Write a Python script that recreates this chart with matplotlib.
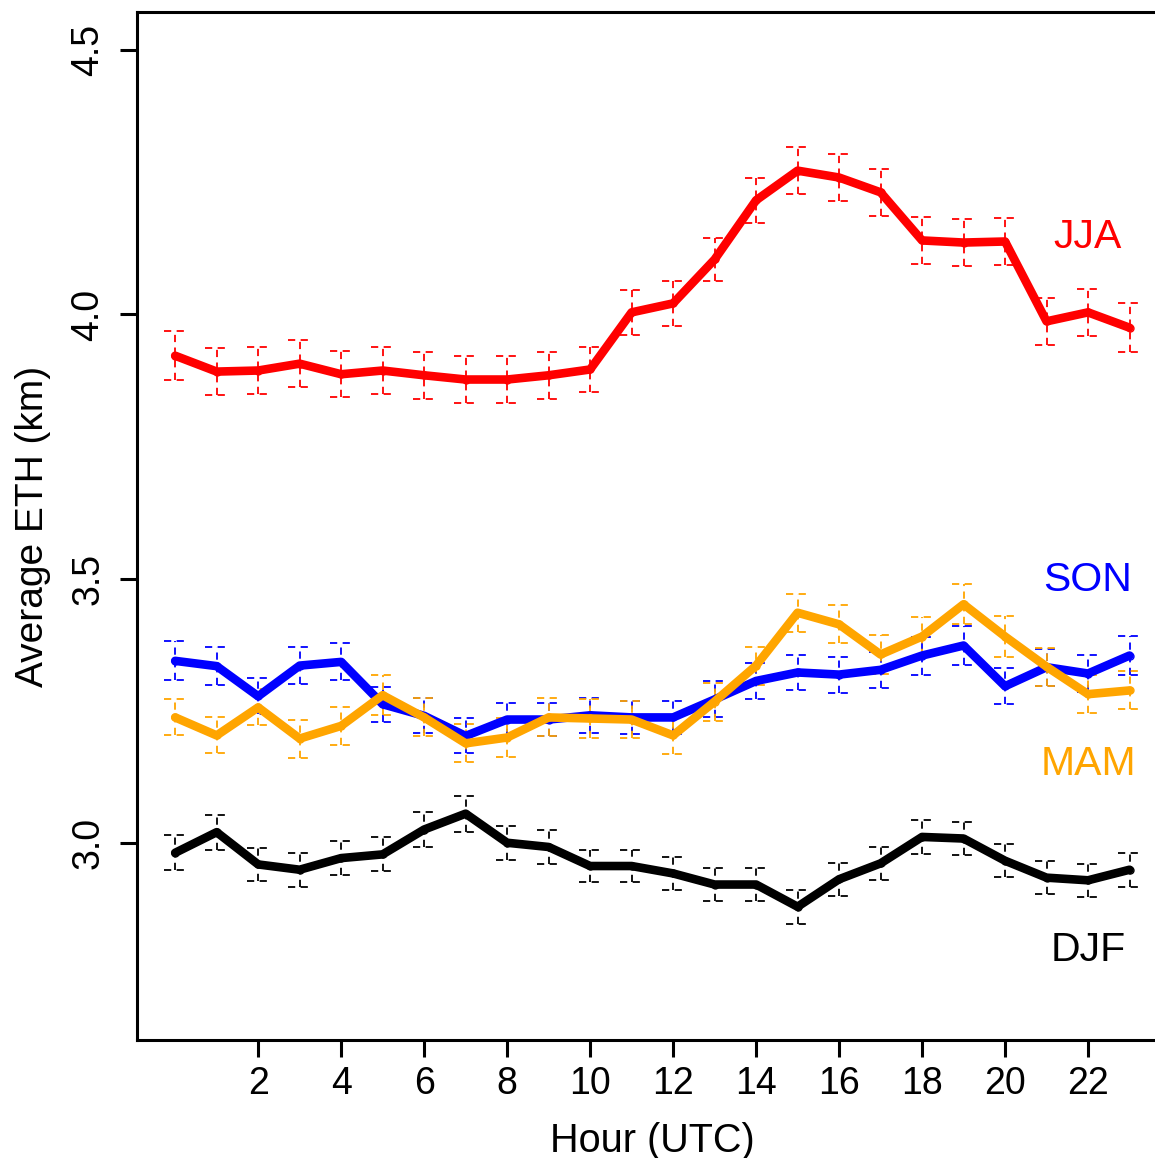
import numpy as np
import matplotlib
matplotlib.use("Agg")
import matplotlib.pyplot as plt

plt.rcParams['font.family'] = ['Liberation Sans', 'DejaVu Sans']

# Hours
hours = np.arange(24)

# Seasonal mean ETH (km)
jja = [3.922, 3.892, 3.894, 3.907, 3.887, 3.894, 3.885, 3.877, 3.877, 3.885, 3.896, 4.004,
       4.021, 4.104, 4.216, 4.272, 4.259, 4.231, 4.140, 4.136, 4.138, 3.987, 4.004, 3.975]
son = [3.345, 3.335, 3.278, 3.336, 3.343, 3.263, 3.241, 3.203, 3.234, 3.234, 3.242, 3.238,
       3.238, 3.272, 3.307, 3.323, 3.319, 3.328, 3.355, 3.374, 3.297, 3.333, 3.321, 3.355]
mam = [3.238, 3.204, 3.257, 3.198, 3.222, 3.280, 3.238, 3.189, 3.200, 3.238, 3.236, 3.234,
       3.204, 3.268, 3.336, 3.436, 3.414, 3.357, 3.391, 3.452, 3.391, 3.334, 3.282, 3.289]
djf = [2.982, 3.021, 2.960, 2.950, 2.972, 2.979, 3.026, 3.056, 3.001, 2.993, 2.957, 2.957,
       2.943, 2.922, 2.922, 2.880, 2.932, 2.962, 3.012, 3.009, 2.967, 2.935, 2.930, 2.950]

# Half-widths of error bars (km)
jja_err = [0.046, 0.044, 0.044, 0.044, 0.044, 0.044, 0.044, 0.044, 0.044, 0.044, 0.043, 0.043,
           0.042, 0.041, 0.043, 0.045, 0.045, 0.045, 0.045, 0.045, 0.045, 0.045, 0.045, 0.046]
son_err = [0.037, 0.036, 0.034, 0.035, 0.035, 0.033, 0.033, 0.033, 0.032, 0.032, 0.033, 0.032,
           0.032, 0.034, 0.034, 0.034, 0.034, 0.034, 0.036, 0.036, 0.034, 0.035, 0.035, 0.037]
mam_err = [0.034, 0.034, 0.034, 0.036, 0.036, 0.038, 0.036, 0.036, 0.036, 0.036, 0.036, 0.035,
           0.035, 0.036, 0.036, 0.036, 0.036, 0.036, 0.036, 0.038, 0.038, 0.036, 0.036, 0.036]
djf_err = [0.033, 0.033, 0.032, 0.032, 0.032, 0.032, 0.033, 0.034, 0.032, 0.032, 0.031, 0.031,
           0.031, 0.031, 0.031, 0.032, 0.031, 0.031, 0.032, 0.032, 0.031, 0.031, 0.031, 0.032]

seasons = ['JJA', 'SON', 'MAM', 'DJF']
colors = ['red', 'blue', 'orange', 'black']
label_y = [4.147, 3.498, 3.149, 2.798]
label_x = 22

fig = plt.figure(figsize=(11.55, 11.58), dpi=100)
ax = fig.add_axes([137 / 1155, 118 / 1158, 1030.7 / 1155, 1028 / 1158])

dash = (0, (4, 3))
cap = 0.27
for name, vals, errs, col, ly in zip(seasons, [jja, son, mam, djf],
                                     [jja_err, son_err, mam_err, djf_err], colors, label_y):
    vals = np.array(vals)
    errs = np.array(errs)
    ax.vlines(hours, vals - errs, vals + errs, colors=col, linestyles=dash, lw=1.3, zorder=2)
    ax.hlines(vals - errs, hours - cap, hours + cap, colors=col, linestyles=dash, lw=1.3, zorder=2)
    ax.hlines(vals + errs, hours - cap, hours + cap, colors=col, linestyles=dash, lw=1.3, zorder=2)
    ax.plot(hours, vals, color=col, lw=6.2, solid_capstyle='round', solid_joinstyle='round', zorder=3)
    ax.plot(hours, vals, 'o', color=col, mfc='none', ms=5, mew=1, zorder=3)
    ax.text(label_x, ly, name, color=col, fontsize=29.5, ha='center', va='center')

ax.set_xlim(-0.92, 23.92)
ax.set_ylim(2.628, 4.572)
ax.set_xticks(np.arange(2, 23, 2))
ax.set_yticks([3.0, 3.5, 4.0, 4.5])
ax.set_yticklabels(['3.0', '3.5', '4.0', '4.5'], rotation=90, va='center')
ax.tick_params(axis='both', labelsize=27, length=12, width=2.2, direction='out')
ax.tick_params(axis='x', pad=7)
ax.tick_params(axis='y', pad=10)

for s in ['left', 'bottom', 'top', 'right']:
    ax.spines[s].set_linewidth(2.2)

ax.set_xlabel('Hour (UTC)', fontsize=28.5, labelpad=14)
ax.set_ylabel('Average ETH (km)', fontsize=28, labelpad=14)

fig.savefig('out.png', dpi=100)
